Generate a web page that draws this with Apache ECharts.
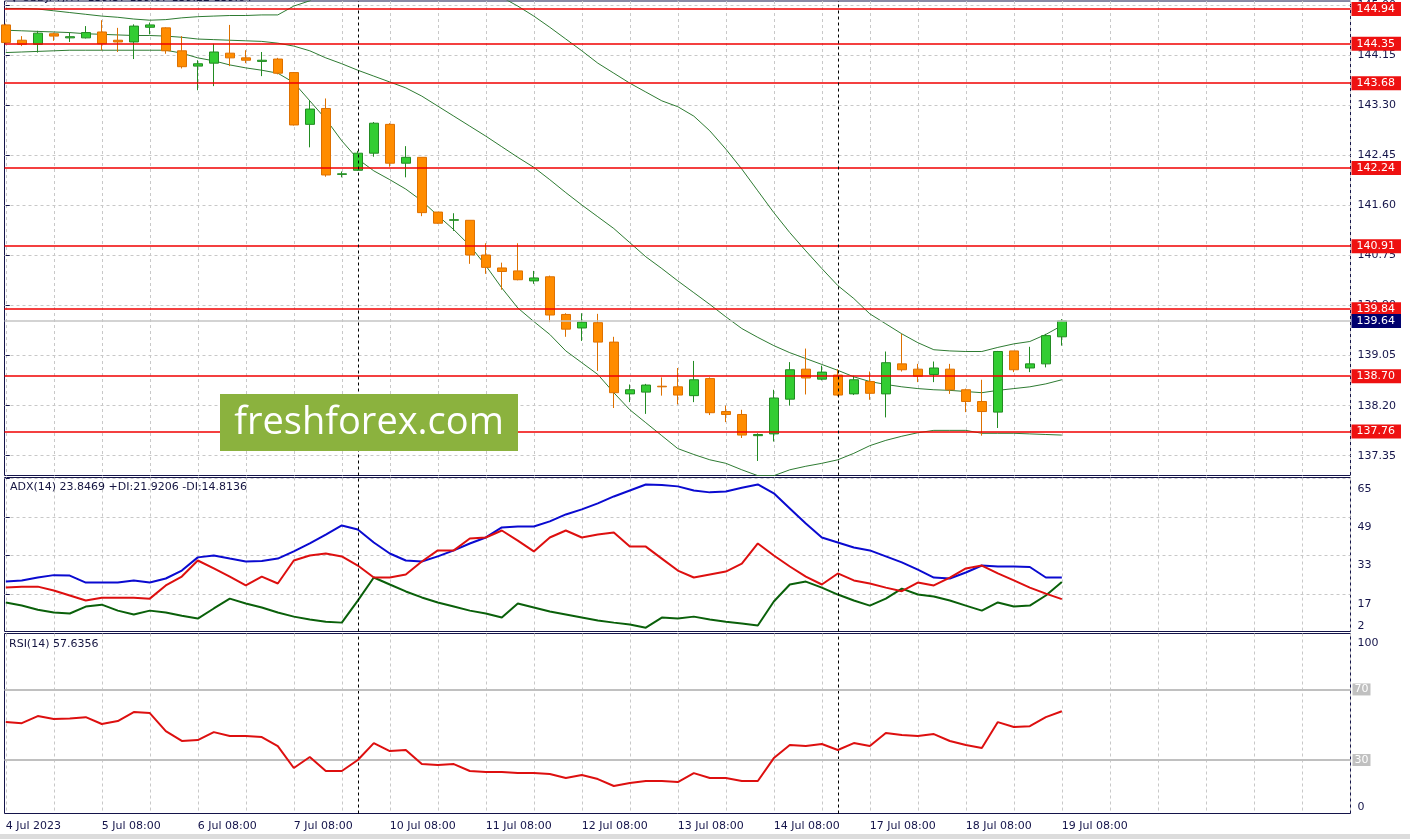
<!DOCTYPE html>
<html><head><meta charset="utf-8">
<script src="https://cdn.jsdelivr.net/npm/echarts@6/dist/echarts.min.js"></script>
<style>html,body{margin:0;padding:0;background:#fff;overflow:hidden}#c{width:1410px;height:839px}</style>
</head><body><div id="c"></div>
<script>
// ---------- data ----------
const header = '\u25BC USDJPY,H4  139.37 139.67 139.22 139.64';
const xTickIndex = [0, 6, 12, 18, 24, 30, 36, 42, 48, 54, 60, 66];
const xTickLabels = ['4 Jul 2023', '5 Jul 08:00', '6 Jul 08:00', '7 Jul 08:00', '10 Jul 08:00', '11 Jul 08:00',
  '12 Jul 08:00', '13 Jul 08:00', '14 Jul 08:00', '17 Jul 08:00', '18 Jul 08:00', '19 Jul 08:00'];
const separators = [22, 52];

const open = [144.67,144.41,144.34,144.52,144.45,144.45,144.55,144.41,144.38,144.63,
  144.62,144.23,143.97,144.02,144.19,144.11,144.05,144.09,143.86,142.98,
  143.25,142.13,142.20,142.49,142.98,142.32,142.42,141.49,141.35,141.35,
  140.76,140.54,140.49,140.32,140.39,139.75,139.52,139.61,139.28,138.40,
  138.43,138.53,138.52,138.37,138.66,138.10,138.05,137.69,137.72,138.31,
  138.82,138.65,138.72,138.40,138.61,138.40,138.91,138.82,138.73,138.82,
  138.47,138.27,138.09,139.13,138.84,138.91,139.37];
const high = [144.69,144.48,144.57,144.54,144.54,144.65,144.75,144.62,144.68,144.71,
  144.63,144.48,144.07,144.35,144.67,144.24,144.21,144.11,143.87,143.39,
  143.42,142.18,142.53,143.02,143.00,142.61,142.42,141.49,141.47,141.35,
  140.96,140.63,140.96,140.49,140.41,139.77,139.77,139.76,139.37,138.56,
  138.57,138.68,138.84,138.96,138.68,138.20,138.13,137.73,138.47,138.94,
  139.17,138.88,138.82,138.71,138.78,139.12,139.42,138.91,138.95,138.91,
  138.49,138.64,139.13,139.13,139.20,139.42,139.67];
const low = [144.35,144.31,144.20,144.40,144.38,144.44,144.24,144.21,144.09,144.51,
  144.18,143.93,143.56,143.63,143.97,144.02,143.80,143.83,142.96,142.59,
  142.09,142.08,142.19,142.43,142.26,142.08,141.42,141.29,141.17,140.61,
  140.44,140.17,140.33,140.27,139.62,139.37,139.30,138.79,138.16,138.26,
  138.06,138.37,138.22,138.26,138.04,137.92,137.65,137.26,137.59,138.20,
  138.39,138.63,138.36,138.38,138.30,138.00,138.78,138.60,138.60,138.40,
  138.09,137.69,137.82,138.77,138.77,138.85,139.22];
const close = [144.37,144.34,144.53,144.48,144.47,144.54,144.35,144.38,144.65,144.67,
  144.23,143.96,144.01,144.21,144.11,144.07,144.07,143.85,142.97,143.24,
  142.12,142.14,142.49,143.00,142.32,142.42,141.48,141.30,141.36,140.76,
  140.55,140.48,140.34,140.37,139.74,139.50,139.62,139.28,138.42,138.47,
  138.55,138.52,138.38,138.64,138.08,138.05,137.70,137.71,138.33,138.81,
  138.67,138.77,138.38,138.64,138.41,138.93,138.81,138.70,138.84,138.47,
  138.27,138.10,139.12,138.81,138.91,139.39,139.64];

const bbUpper = [144.95,144.95,144.94,144.91,144.88,144.85,144.82,144.80,144.77,144.75,
  144.76,144.79,144.81,144.82,144.83,144.83,144.84,144.84,144.99,145.08,
  145.28,145.45,145.55,145.59,145.59,145.55,145.52,145.48,145.42,145.35,
  145.25,145.14,144.99,144.82,144.63,144.43,144.23,144.02,143.85,143.68,
  143.53,143.38,143.28,143.12,142.87,142.56,142.22,141.85,141.48,141.14,
  140.83,140.53,140.24,140.02,139.76,139.59,139.42,139.27,139.15,139.13,
  139.12,139.12,139.19,139.25,139.29,139.41,139.56];
const bbMiddle = [144.58,144.57,144.56,144.55,144.54,144.52,144.51,144.50,144.49,144.49,
  144.48,144.46,144.43,144.42,144.41,144.40,144.39,144.36,144.31,144.23,
  144.11,144.01,143.90,143.80,143.70,143.60,143.46,143.29,143.12,142.95,
  142.78,142.60,142.42,142.25,142.04,141.82,141.61,141.41,141.21,140.97,
  140.73,140.53,140.32,140.12,139.92,139.71,139.51,139.36,139.22,139.10,
  139.00,138.90,138.80,138.69,138.61,138.56,138.52,138.49,138.47,138.46,
  138.44,138.42,138.46,138.49,138.52,138.57,138.64];
const bbLower = [144.20,144.21,144.22,144.23,144.24,144.24,144.24,144.24,144.24,144.24,
  144.24,144.19,144.11,144.06,143.99,143.94,143.90,143.85,143.69,143.38,
  143.07,142.70,142.39,142.19,142.04,141.88,141.68,141.43,141.19,140.92,
  140.58,140.20,139.86,139.63,139.41,139.13,138.93,138.73,138.42,138.13,
  137.91,137.69,137.47,137.37,137.28,137.22,137.11,137.01,137.01,137.11,
  137.17,137.22,137.28,137.39,137.52,137.61,137.68,137.74,137.78,137.78,
  137.78,137.73,137.73,137.73,137.72,137.71,137.70];

const levels = [144.94, 144.35, 143.68, 142.24, 140.91, 139.84, 138.70, 137.76];
const lastPrice = 139.64;
const priceTicks = [137.35, 138.20, 139.05, 139.90, 140.75, 141.60, 142.45, 143.30, 144.15, 145.00];

const adx = [22.1,22.6,23.8,24.8,24.6,21.7,21.7,21.7,22.6,21.7,
  23.4,26.7,32.2,33.0,31.7,30.5,30.7,31.7,34.7,38.0,
  41.7,45.5,43.8,38.4,33.8,30.9,30.5,32.6,35.1,38.0,
  40.5,44.7,45.1,45.1,47.2,50.1,52.2,54.7,57.6,60.1,
  62.6,62.4,61.8,60.1,59.3,59.7,61.2,62.6,58.9,52.6,
  46.3,40.5,38.4,36.3,35.1,32.6,30.1,27.1,23.8,23.4,
  25.9,28.8,28.4,28.4,28.2,23.8,23.85];
const plusDI = [13.4,12.1,10.4,9.2,8.8,11.7,12.5,10.0,8.4,10.0,
  9.2,7.9,6.7,10.9,15.0,13.0,11.3,9.2,7.5,6.3,
  5.4,5.0,14.2,23.8,20.9,18.0,15.5,13.4,11.7,10.0,
  8.8,7.1,13.0,11.3,9.6,8.4,7.1,5.9,5.0,4.2,
  2.9,7.1,6.7,7.5,6.3,5.4,4.6,3.8,13.8,20.9,
  22.1,19.6,16.7,14.2,12.1,15.0,19.2,16.7,15.9,14.2,
  12.1,10.0,13.4,11.7,12.1,16.3,21.92];
const minusDI = [19.6,20.0,20.0,18.4,16.3,14.2,15.4,15.4,15.4,15.0,
  20.5,24.2,30.9,27.6,24.2,20.5,24.2,21.3,30.9,33.0,
  33.8,32.6,28.8,23.8,23.8,25.1,30.5,35.1,35.1,40.1,
  40.5,43.4,39.2,34.7,40.5,43.4,40.5,41.7,42.6,36.7,
  36.7,31.7,26.7,23.8,25.1,26.3,29.6,38.0,33.0,28.4,
  24.2,20.9,25.5,22.6,21.3,19.6,18.1,21.7,20.5,23.8,
  27.6,28.8,25.5,22.6,19.6,17.1,14.81];
const adxTicks = [17, 33, 49, 65];
const adxLabels = [2, 17, 33, 49, 65];
const adxTitle = 'ADX(14) 23.8469 +DI:21.9206 -DI:14.8136';

const rsi = [51.5,50.9,54.9,53.2,53.5,54.3,50.4,52.1,57.2,56.6,
  46.4,40.8,41.3,45.8,43.6,43.6,43.0,37.9,25.5,31.7,
  23.8,23.8,30.0,39.6,35.1,35.7,27.7,27.2,27.7,23.8,
  23.2,23.2,22.6,22.6,22.1,19.8,21.5,19.2,15.3,17.0,
  18.1,18.1,17.5,22.6,19.8,19.8,18.1,18.1,31.1,38.5,
  37.9,39.1,35.7,39.6,37.9,45.3,44.2,43.6,44.7,40.8,
  38.5,36.8,51.5,48.7,49.2,54.3,57.64];
const rsiLevels = [70, 30];
const rsiLabels = [0, 100];
const rsiTitle = 'RSI(14) 57.6356';
const watermark = 'freshforex.com';

// ---------- chart ----------
const NAVY = '#14144a';
const FONT = 'DejaVu Sans';
const GRIDC = '#c8c8c8';
const xMin = -0.08, xMax = 84.04;
const vGrid = []; for (let k = 0; k <= 28; k++) vGrid.push(3 * k);
const pairs = arr => arr.map((v, i) => [i, v]);
const sepLine = x => ({ xAxis: x, lineStyle: { color: '#000', type: [3, 3], width: 1 }, label: { show: false } });

function xAxisFor(gi, withLabels) {
  return {
    type: 'value', gridIndex: gi, min: xMin, max: xMax,
    axisLine: { show: false },
    axisTick: { show: false, customValues: vGrid },
    splitLine: { show: true, lineStyle: { color: GRIDC, type: [3, 3], width: 1 } },
    axisLabel: withLabels ? {
      show: true, customValues: xTickIndex,
      formatter: v => { const k = xTickIndex.indexOf(Math.round(v)); return k >= 0 ? xTickLabels[k] : ''; },
      align: 'left', margin: 7, color: NAVY, fontSize: 11, fontFamily: FONT
    } : { show: false }
  };
}
const gridBase = { left: 4.5, right: 59.5, show: true, borderColor: NAVY, borderWidth: 1, backgroundColor: '#fff' };
const lblStyle = { color: NAVY, fontSize: 11, fontFamily: FONT };
const levelLabel = (bg) => ({ show: true, position: 'end', distance: 1, formatter: p => Number(p.value).toFixed(2),
  backgroundColor: bg, color: '#fff', padding: [2, 6, 1, 5], fontSize: 11, fontFamily: FONT });

const option = {
  animation: false,
  backgroundColor: '#ffffff',
  grid: [
    Object.assign({}, gridBase, { top: 0.5, height: 475 }),
    Object.assign({}, gridBase, { top: 477.5, height: 154 }),
    Object.assign({}, gridBase, { top: 633.5, height: 180 })
  ],
  xAxis: [xAxisFor(0, false), xAxisFor(1, false), xAxisFor(2, true)],
  yAxis: [
    {
      type: 'value', gridIndex: 0, position: 'right', min: 137.013, max: 145.076,
      axisLine: { show: false },
      axisTick: { show: true, customValues: priceTicks, length: 4, lineStyle: { color: NAVY } },
      axisLabel: Object.assign({ customValues: priceTicks, formatter: v => Number(v).toFixed(2), margin: 7 }, lblStyle),
      splitLine: { show: true, lineStyle: { color: GRIDC, type: [3, 3] } }
    },
    {
      type: 'value', gridIndex: 1, position: 'right', min: 1.3, max: 65.5,
      axisLine: { show: false },
      axisTick: { show: true, customValues: adxTicks, length: 4, lineStyle: { color: NAVY } },
      axisLabel: {
        customValues: adxLabels, margin: 7,
        formatter: v => Math.round(v) === 2 ? '{b|2}' : '{t|' + Math.round(v) + '}',
        rich: { t: Object.assign({ padding: [20, 0, 0, 0] }, lblStyle), b: Object.assign({ padding: [0, 0, 8, 0] }, lblStyle) }
      },
      splitLine: { show: true, lineStyle: { color: GRIDC, type: [3, 3] } }
    },
    {
      type: 'value', gridIndex: 2, position: 'right', min: -0.3, max: 101.7,
      axisLine: { show: false },
      axisTick: { show: false, customValues: rsiLabels },
      axisLabel: {
        customValues: rsiLabels, margin: 7,
        formatter: v => Math.round(v) === 100 ? '{t|100}' : '{b|0}',
        rich: { t: Object.assign({ padding: [14, 0, 0, 0] }, lblStyle), b: Object.assign({ padding: [0, 0, 12, 0] }, lblStyle) }
      },
      splitLine: { show: false }
    }
  ],
  series: [
    { type: 'line', xAxisIndex: 0, yAxisIndex: 0, data: pairs(bbUpper), showSymbol: false, silent: true, clip: true,
      lineStyle: { color: '#2e7b32', width: 1 }, itemStyle: { color: '#2e7b32' }, z: 2,
      markLine: {
        silent: true, symbol: ['none', 'none'], animation: false, z: 5,
        data: levels.map(v => ({ yAxis: v, lineStyle: { color: '#f00000', width: 1.5, type: 'solid' }, label: levelLabel('#ee1111') }))
          .concat([{ yAxis: lastPrice, lineStyle: { color: '#c4c4c4', width: 1.5, type: 'solid' }, label: levelLabel('#00006e') }])
      }
    },
    { type: 'line', xAxisIndex: 0, yAxisIndex: 0, data: pairs(bbMiddle), showSymbol: false, silent: true, clip: true,
      lineStyle: { color: '#2e7b32', width: 1 }, itemStyle: { color: '#2e7b32' }, z: 2,
      markLine: { silent: true, symbol: ['none', 'none'], z: 6, data: separators.map(sepLine) } },
    { type: 'line', xAxisIndex: 0, yAxisIndex: 0, data: pairs(bbLower), showSymbol: false, silent: true, clip: true,
      lineStyle: { color: '#2e7b32', width: 1 }, itemStyle: { color: '#2e7b32' }, z: 2 },
    {
      type: 'candlestick', xAxisIndex: 0, yAxisIndex: 0, z: 3,
      data: open.map((o, i) => [i, o, close[i], low[i], high[i]]),
      encode: { x: 0, y: [1, 2, 3, 4] },
      barWidth: 9,
      itemStyle: { color: '#32cd32', color0: '#ff8c00', borderColor: '#228b22', borderColor0: '#dd7000', borderWidth: 1 }
    },

    { type: 'line', xAxisIndex: 1, yAxisIndex: 1, data: pairs(adx), showSymbol: false, silent: true,
      lineStyle: { color: '#0a0ad0', width: 2 }, itemStyle: { color: '#0a0ad0' },
      markLine: { silent: true, symbol: ['none', 'none'], data: separators.map(sepLine) } },
    { type: 'line', xAxisIndex: 1, yAxisIndex: 1, data: pairs(plusDI), showSymbol: false, silent: true,
      lineStyle: { color: '#0a600a', width: 2 }, itemStyle: { color: '#0a600a' } },
    { type: 'line', xAxisIndex: 1, yAxisIndex: 1, data: pairs(minusDI), showSymbol: false, silent: true,
      lineStyle: { color: '#dd0f0f', width: 2 }, itemStyle: { color: '#dd0f0f' } },

    { type: 'line', xAxisIndex: 2, yAxisIndex: 2, data: pairs(rsi), showSymbol: false, silent: true,
      lineStyle: { color: '#dd0f0f', width: 2 }, itemStyle: { color: '#dd0f0f' }, z: 3,
      markLine: { silent: true, symbol: ['none', 'none'], z: 2,
        data: separators.map(sepLine).concat(rsiLevels.map(v => ({
            yAxis: v, lineStyle: { color: '#c0c0c0', width: 2, type: 'solid' },
            label: { show: true, position: 'end', distance: 2, formatter: p => String(Math.round(p.value)),
              backgroundColor: '#c0c0c0', color: '#fff', padding: [1, 2, 0, 2], fontSize: 11, fontFamily: FONT }
          }))) } }
  ],
  graphic: [
    { type: 'text', left: 10, top: -7, z: 100, silent: true,
      style: { text: header, fill: '#141440', font: '11px "DejaVu Sans"' } },
    { type: 'text', left: 10, top: 482, z: 100, silent: true,
      style: { text: adxTitle, fill: '#141440', font: '11px "DejaVu Sans"' } },
    { type: 'text', left: 9, top: 639, z: 100, silent: true,
      style: { text: rsiTitle, fill: '#141440', font: '11px "DejaVu Sans"' } },
    { type: 'rect', z: 100, silent: true, shape: { x: 220, y: 394, width: 298, height: 57 }, style: { fill: '#8bb23e' } },
    { type: 'text', z: 101, silent: true, x: 369, y: 423,
      style: { text: watermark, fill: '#ffffff', font: '38px "Open Sans"', align: 'center', verticalAlign: 'middle',
        textAlign: 'center', textVerticalAlign: 'middle' } },
    { type: 'rect', z: 100, silent: true, shape: { x: 0, y: 834, width: 1410, height: 5 }, style: { fill: '#dcdcdc' } }
  ]
};
const chart = echarts.init(document.getElementById('c'));
chart.setOption(option);
</script>
</body></html>
